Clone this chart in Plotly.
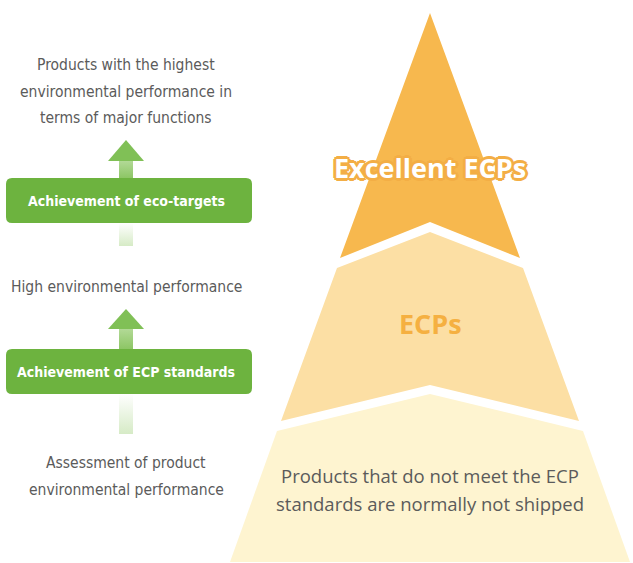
import plotly.graph_objects as go

# ---- content ----
left_labels = [
    "Products with the highest<br>environmental performance in<br>terms of major functions",
    "High environmental performance",
    "Assessment of product<br>environmental performance",
]
step_labels = ["Achievement of eco-targets", "Achievement of ECP standards"]
tier_labels = ["Excellent ECPs", "ECPs",
               "Products that do not meet the ECP<br>standards are normally not shipped"]

# tier outlines (pixel space, y downward)
tier_x = [
    [430, 520, 430, 340, 430],
    [430, 523, 579, 430, 281, 337, 430],
    [430, 583, 630, 230, 277, 430],
]
tier_y = [
    [13, 258, 222, 258, 13],
    [232, 268, 421, 385, 421, 268, 232],
    [394, 431, 562, 562, 431, 394],
]
tier_colors = ["#F7B84E", "#FCDFA4", "#FEF4D0"]

W, H = 633, 563
GRAY = "#5B5B5B"
GREEN = "#6DB33F"
COND = "DejaVu Sans Condensed, sans-serif"
SANS = "Open Sans, Noto Sans, sans-serif"

fig = go.Figure()

for xs, ys, c in zip(tier_x, tier_y, tier_colors):
    fig.add_trace(go.Scatter(x=xs, y=ys, fill="toself", fillcolor=c, mode="lines",
                             line=dict(width=0, color=c), hoverinfo="skip", showlegend=False))

# arrows: (apex_y, head_base_y, box_top, box_bottom, fade_end)
arrows = [(140, 161, 178, 223, 246), (309, 329, 349, 394, 434)]
cx = 126
for ay, hb, bt, bb, fe in arrows:
    fig.add_trace(go.Scatter(x=[cx-7, cx+7, cx+7, cx-7, cx-7], y=[hb, hb, bt, bt, hb],
                             fill="toself", mode="lines", line=dict(width=0),
                             fillgradient=dict(type="vertical",
                                               colorscale=[[0, "#8DC665"], [1, "#B2D996"]]),
                             hoverinfo="skip", showlegend=False))
    fig.add_trace(go.Scatter(x=[cx-7, cx+7, cx+7, cx-7, cx-7], y=[bb, bb, fe, fe, bb],
                             fill="toself", mode="lines", line=dict(width=0),
                             fillgradient=dict(type="vertical",
                                               colorscale=[[0, "#D6EBC6"], [1, "#FFFFFF"]]),
                             hoverinfo="skip", showlegend=False))
    fig.add_trace(go.Scatter(x=[cx, cx+18, cx-18, cx], y=[ay, hb, hb, ay], fill="toself",
                             fillcolor="#80C056", mode="lines", line=dict(width=0),
                             hoverinfo="skip", showlegend=False))

def rounded_rect(x0, y0, x1, y1, r):
    return (f"M{x0+r},{y0} L{x1-r},{y0} Q{x1},{y0} {x1},{y0+r} L{x1},{y1-r} "
            f"Q{x1},{y1} {x1-r},{y1} L{x0+r},{y1} Q{x0},{y1} {x0},{y1-r} "
            f"L{x0},{y0+r} Q{x0},{y0} {x0+r},{y0} Z")

shapes = []
annotations = []
for (ay, hb, bt, bb, fe), lab in zip(arrows, step_labels):
    shapes.append(dict(type="path", xref="x", yref="y", path=rounded_rect(6, bt, 252, bb, 6),
                       fillcolor=GREEN, line=dict(width=0), layer="above"))
    annotations.append(dict(x=cx, y=(bt+bb)/2, text=f"<b>{lab}</b>", showarrow=False,
                            font=dict(family=COND, size=14, color="white")))

# first-line y and line step for each left label
left_pos = [(65, 26.5), (287, 0), (463, 27)]
for lab, (y0, dy) in zip(left_labels, left_pos):
    for i, line in enumerate(lab.split("<br>")):
        annotations.append(dict(x=cx, y=y0 + i*dy, text=line, showarrow=False,
                                font=dict(family=COND, size=15.5, color=GRAY)))

OUT = "#F3AE45"
annotations.append(dict(x=430, y=167, text=f"<b>{tier_labels[0]}</b>", showarrow=False,
                        font=dict(family=SANS, size=27, color="white",
                                  shadow=f"2px 2px 0 {OUT}, -2px -2px 0 {OUT}, 2px -2px 0 {OUT}, -2px 2px 0 {OUT}, 0 3px 0 {OUT}, 0 -3px 0 {OUT}, 3px 0 0 {OUT}, -3px 0 0 {OUT}")))
annotations.append(dict(x=430, y=323, text=f"<b>{tier_labels[1]}</b>", showarrow=False,
                        font=dict(family=SANS, size=27, color="#F5B041")))
for i, line in enumerate(tier_labels[2].split("<br>")):
    annotations.append(dict(x=430, y=475 + i*28, text=line, showarrow=False,
                            font=dict(family=SANS, size=18.5, color=GRAY)))

fig.update_layout(
    width=W, height=H, margin=dict(l=0, r=0, t=0, b=0),
    paper_bgcolor="white", plot_bgcolor="white",
    xaxis=dict(range=[0, W], visible=False, fixedrange=True),
    yaxis=dict(range=[H, 0], visible=False, fixedrange=True),
    shapes=shapes, annotations=annotations,
)
fig.write_html("out.html", post_script="document.body.style.margin='0';",
               config={"displayModeBar": False})
